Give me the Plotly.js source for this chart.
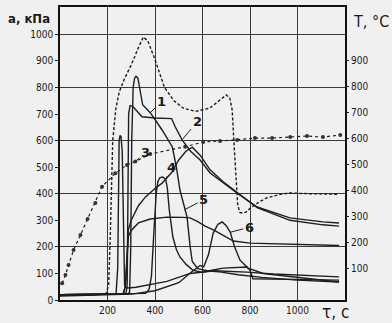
<!DOCTYPE html>
<html><head><meta charset="utf-8">
<script src="https://cdn.plot.ly/plotly-3.0.1.min.js"></script>
<style>html,body{margin:0;padding:0;background:#f0f0f0;}#chart{width:392px;height:323px;}</style>
</head><body><div id="chart"></div>
<script>
// time, s
var tDash = [0,150,195,205,212,218,222,235,250,270,300,330,351,370,400,440,480,520,570,630,680,700,715,725,732,740,748,757,770,785,800,840,870,920,965,1050,1175];
var aDash = [20,20,25,60,250,480,600,720,785,830,885,950,990,975,905,800,750,722,710,722,760,772,760,715,600,470,360,330,327,332,345,370,384,396,403,400,398];

var t1 = [0,285,293,298,302,308,314,320,328,336,342,348,380,430,473,490,505,525,535,548,557,580,620,680,750,850,1000,1175];
var a1 = [20,22,30,200,600,800,835,842,835,800,760,735,705,640,576,500,414,340,312,200,145,118,110,105,95,85,75,68];

var t2 = [0,278,283,286,289,295,305,320,345,400,470,485,514,550,590,632,687,745,830,968,1107,1175];
var a2 = [20,22,60,400,700,732,730,715,690,685,683,652,603,560,527,478,440,403,350,309,294,290];

var t3 = [0,265,275,282,288,300,330,360,400,430,470,500,530,557,590,632,687,745,830,968,1107,1175];
var a3 = [20,22,50,170,265,300,355,388,420,440,480,527,560,575,545,490,445,405,348,300,283,278];

var t4 = [0,360,375,385,395,405,412,420,432,445,452,460,475,490,505,530,560,600,640,687,787,800,812,1000,1175];
var a4 = [20,25,40,90,250,400,445,460,463,455,420,340,238,190,162,135,112,104,112,120,124,112,80,76,75];

var t5 = [0,268,276,282,288,300,330,380,450,520,548,580,611,650,700,730,800,1000,1175];
var a5 = [20,22,60,180,240,262,290,305,312,311,309,295,278,262,237,222,214,210,205];

var t6 = [0,300,400,500,560,590,605,625,645,665,683,700,717,735,758,792,855,968,1107,1175];
var a6 = [15,22,35,65,110,130,125,170,252,285,294,280,255,200,150,120,100,88,75,68];

var tSpike = [0,236,243,246,249,253,257,262,266,268,272,285,320,450,548,650,787,900,1000,1175];
var aSpike = [20,22,120,450,600,620,615,560,300,110,55,45,48,70,100,110,105,98,93,87];

// temperature, °C
var tTemp = [9,23,36,57,86,116,149,177,233,282,317,380,527,603,674,746,821,893,969,1040,1107,1180];
var TTemp = [45,77,115,172,230,291,352,415,466,498,511,540,568,586,590,594,601,601,605,609,605,613];

var xTicks = [200,400,600,800,1000];
var aTicks = [0,100,200,300,400,500,600,700,800,900,1000];
var aGrid = [200,400,600,800,1000];
var TTicks = [100,200,300,400,500,600,700,800,900];

var ink = '#1e1e1e';
function solid(t, a){ return {x:t, y:a, mode:'lines', line:{color:ink, width:1.4}, hoverinfo:'skip', showlegend:false}; }

var traces = [
  {x:tDash, y:aDash, mode:'lines', line:{color:ink, width:1.4, dash:'3px,2px'}, showlegend:false, hoverinfo:'skip'},
  solid(t1,a1), solid(t2,a2), solid(t3,a3), solid(t4,a4), solid(t5,a5), solid(t6,a6), solid(tSpike,aSpike),
  {x:tTemp, y:TTemp, yaxis:'y2', mode:'lines+markers', line:{color:ink, width:1.2, dash:'dot'},
   marker:{size:4, color:'#333'}, showlegend:false, hoverinfo:'skip'}
];

var tf = {family:'DejaVu Sans Condensed, Liberation Sans Narrow, sans-serif', size:10, color:'#1a1a1a'};
function lbl(text, t, a, ax, ay, yref){
  return {x:t, y:a, xref:'x', yref:yref||'y', text:text, showarrow:true, arrowhead:0, arrowwidth:1,
          arrowcolor:ink, ax:ax, ay:ay, standoff:0,
          font:{family:'DejaVu Sans, sans-serif', size:13, color:'#1a1a1a', weight:'bold'}};
}
function ttl(text, x, y, size, weight){
  return {xref:'paper', yref:'paper', x:x, y:y, xanchor:'center', yanchor:'middle', text:text, showarrow:false,
          font:{family:'DejaVu Sans Condensed, sans-serif', size:size, color:'#1a1a1a', weight:weight||'normal'}};
}

var layout = {
  width:392, height:323,
  margin:{l:60, r:47, t:7, b:23},
  paper_bgcolor:'#f0f0f0', plot_bgcolor:'#f0f0f0',
  xaxis:{range:[0,1200], tickvals:xTicks, showgrid:true, gridcolor:'#3a3a3a', gridwidth:1,
         zeroline:false, showline:true, mirror:true, linecolor:'#111', linewidth:1.6,
         ticks:'', tickfont:tf},
  yaxis:{range:[0,1103], tickvals:aTicks, showgrid:false, zeroline:false, showline:true, mirror:true,
         linecolor:'#111', linewidth:1.8, ticks:'outside', ticklen:3, tickcolor:'#222', tickfont:tf},
  yaxis2:{range:[-19,1103], overlaying:'y', side:'right', tickvals:TTicks, showgrid:false, zeroline:false,
          showline:false, ticks:'outside', ticklen:3, tickcolor:'#222', tickfont:tf},
  yaxis3:{range:[0,1103], overlaying:'y', tickvals:aGrid, showgrid:true, gridcolor:'#3a3a3a', gridwidth:1,
          showticklabels:false, zeroline:false, showline:false, ticks:''},
  annotations:[
    ttl('a, кПа', -0.109, 0.962, 13, 'bold'),
    ttl('T, °C', 1.091, 0.949, 16),
    ttl('τ, с', 0.965, -0.04, 17),
    lbl('1', t1[12], a1[12], 11, -11),
    lbl('2', t2[12], a2[12], 15, -18),
    lbl('3', tTemp[10], TTemp[10], 10, -9, 'y2'),
    lbl('4', t4[9], a4[9], 6, -12),
    lbl('5', t1[17], a1[17], 19, -10),
    lbl('6', t6[12], a6[12], 19, -5)
  ]
};
traces.push({x:[0], y:[0], yaxis:'y3', mode:'markers', marker:{opacity:0}, showlegend:false, hoverinfo:'skip'});

Plotly.newPlot('chart', traces, layout, {staticPlot:true, displayModeBar:false});
</script></body></html>
